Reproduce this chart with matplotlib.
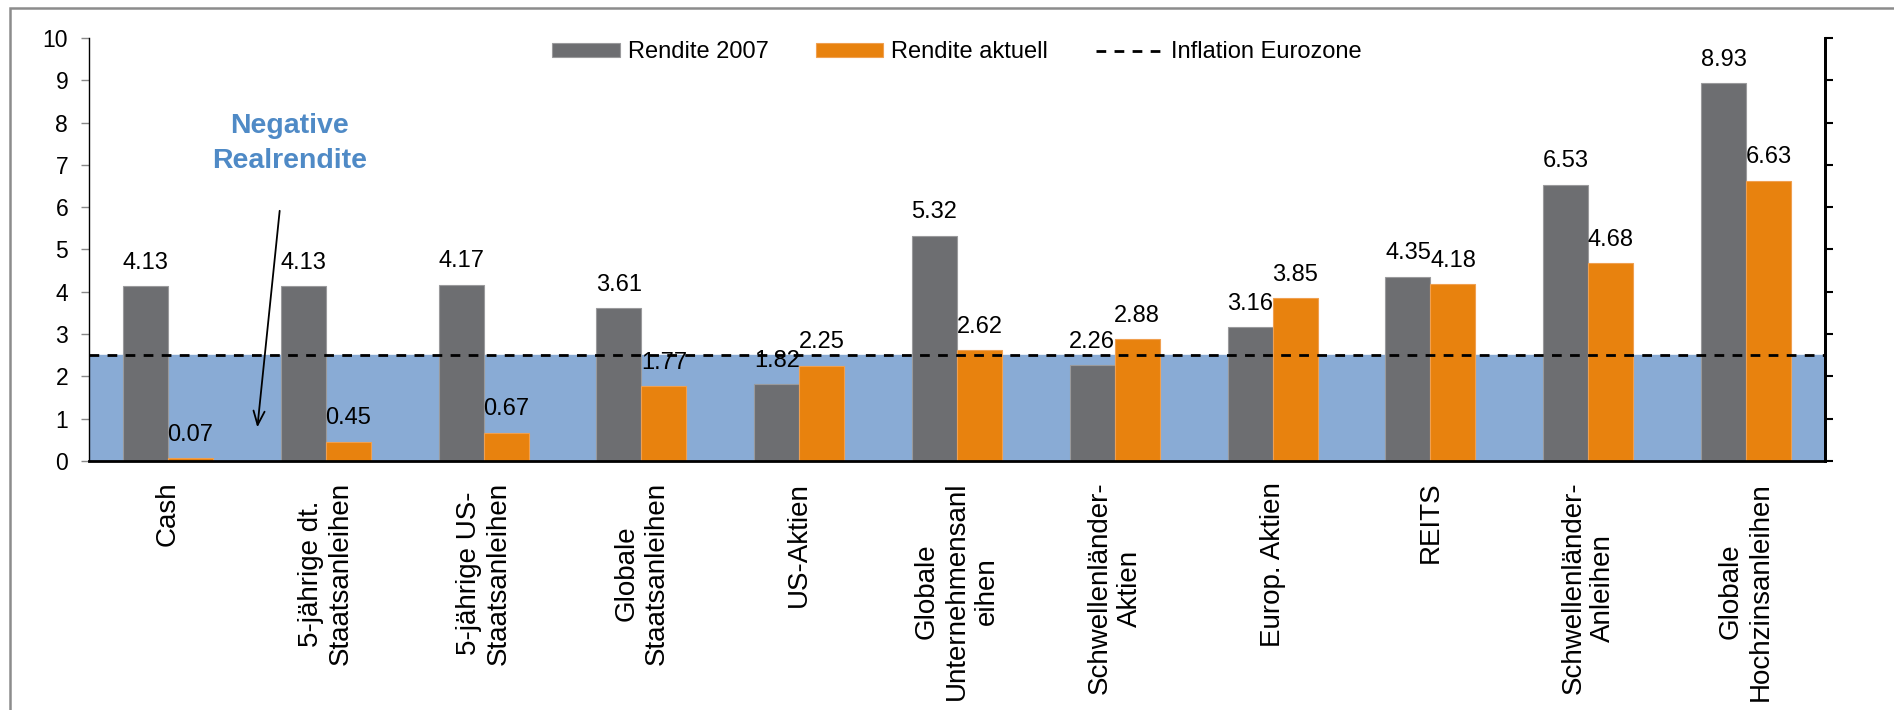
import matplotlib
matplotlib.use("Agg")
import matplotlib.pyplot as plt
from matplotlib.patches import Rectangle
import numpy as np

plt.rcParams['font.family'] = ['Liberation Sans', 'DejaVu Sans']

# data
categories = [
    "Cash",
    "5-jährige dt.\nStaatsanleihen",
    "5-jährige US-\nStaatsanleihen",
    "Globale\nStaatsanleihen",
    "US-Aktien",
    "Globale\nUnternehmensanl\neihen",
    "Schwellenländer-\nAktien",
    "Europ. Aktien",
    "REITS",
    "Schwellenländer-\nAnleihen",
    "Globale\nHochzinsanleihen",
]
rendite_2007 = [4.13, 4.13, 4.17, 3.61, 1.82, 5.32, 2.26, 3.16, 4.35, 6.53, 8.93]
rendite_aktuell = [0.07, 0.45, 0.67, 1.77, 2.25, 2.62, 2.88, 3.85, 4.18, 4.68, 6.63]
inflation = 2.5

gray = "#6D6E71"
orange = "#E8820E"
blue_fill = "#89ABD5"
blue_text = "#4F8AC6"
fs = 17

fig = plt.figure(figsize=(18.94, 7.10), dpi=100)
ax = fig.add_axes([89 / 1894, 1 - 461 / 710, (1825 - 89) / 1894, (461 - 38) / 710])

x = np.arange(len(categories))
w = 0.285

# shaded area below inflation
ax.axhspan(0, inflation, color=blue_fill, zorder=0)

b1 = ax.bar(x - w / 2, rendite_2007, w, color=gray, edgecolor="#9A9A9C", linewidth=0.8,
            label="Rendite 2007", zorder=2)
b2 = ax.bar(x + w / 2, rendite_aktuell, w, color=orange, edgecolor="#F0A050", linewidth=0.8,
            label="Rendite aktuell", zorder=2)
ln = ax.axhline(inflation, color="black", lw=2, dashes=(3.5, 3), label="Inflation Eurozone", zorder=3)

for bars, vals in [(b1, rendite_2007), (b2, rendite_aktuell)]:
    for rect, v in zip(bars, vals):
        ax.annotate(f"{v:.2f}", (rect.get_x() + rect.get_width() / 2, v),
                    xytext=(0, 9), textcoords="offset points",
                    ha="center", va="bottom", fontsize=fs, zorder=4)

ax.set_xlim(-0.5, len(categories) - 0.5)
ax.set_ylim(0, 10)
ax.set_yticks(range(0, 11))
ax.tick_params(axis="y", direction="out", length=5.5, width=1, color="#888888",
               labelsize=16.5, pad=9.5)
ax.set_xticks(x)
ax.set_xticklabels(categories, rotation=90, ha="center", va="top", multialignment="center")
ax.tick_params(axis="x", length=0, labelsize=20, pad=15)

ax.spines["top"].set_visible(False)
ax.spines["left"].set_linewidth(1)
ax.spines["bottom"].set_linewidth(2)
ax.spines["right"].set_linewidth(2)

# right side ticks (no labels)
ax2 = ax.twinx()
ax2.set_ylim(0, 10)
ax2.set_yticks(range(0, 11))
ax2.set_yticklabels([])
ax2.tick_params(axis="y", direction="out", length=5.5, width=1.5, color="black")
for s in ["top", "left", "bottom"]:
    ax2.spines[s].set_visible(False)
ax2.spines["right"].set_linewidth(2)

# annotation
ax.text(0.77, 7.5, "Negative\nRealrendite", color=blue_text, fontsize=20.5,
        fontweight="bold", ha="center", va="center", linespacing=1.45, zorder=5)
ax.annotate("", xy=(0.565, 0.73), xytext=(0.71, 5.98),
            arrowprops=dict(arrowstyle="->,head_length=1.0,head_width=0.4", color="black", lw=1.3),
            zorder=5)

ax.legend(handles=[b1, b2, ln], loc="center", bbox_to_anchor=(0.5, 0.966), ncol=3,
          frameon=False, fontsize=fs, handlelength=2.85, handleheight=0.55,
          handletextpad=0.35, columnspacing=2.0, borderaxespad=0)

# outer frame
fig.add_artist(Rectangle((10 / 1894, -0.1), 1.1, 1.1 - 8 / 710, transform=fig.transFigure,
                         fill=False, edgecolor="#8C8C8C", linewidth=1.8, clip_on=False))

fig.savefig("out.png", dpi=100)
